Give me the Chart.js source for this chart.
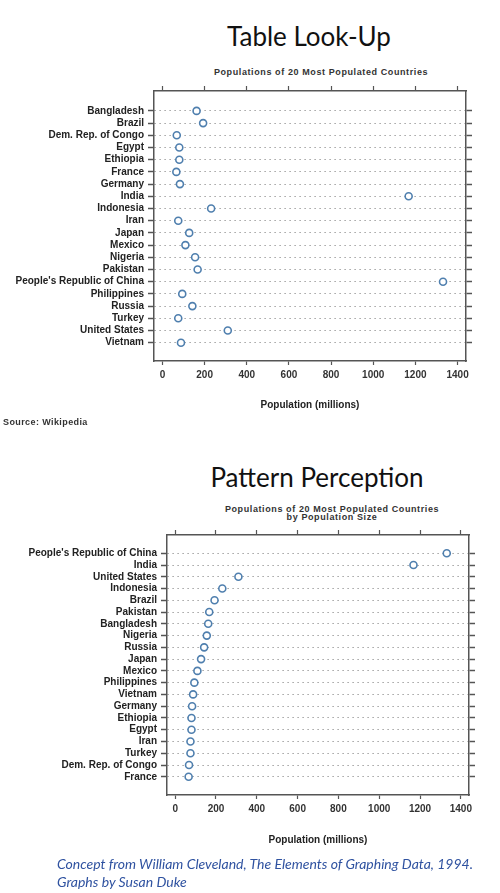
<!DOCTYPE html>
<html>
<head>
<meta charset="utf-8">
<script src="https://cdn.jsdelivr.net/npm/chart.js@4"></script>
<style>
	body { margin: 0; width: 500px; height: 893px; background: #fff; position: relative; overflow: hidden; font-family: "Liberation Sans", Arial, sans-serif; }
	canvas { position: absolute; left: 0; }
	.big { position: absolute; font-family: Lato, sans-serif; font-size: 26px; line-height: 26px; color: #111; white-space: nowrap; transform: translateX(-50%); }
	.sub { position: absolute; font-weight: bold; font-size: 9px; line-height: 8px; letter-spacing: 0.6px; color: #333; text-align: center; white-space: nowrap; transform: translateX(-50%); }
	.source { position: absolute; left: 3px; top: 416px; font-weight: bold; font-size: 9px; line-height: 12px; letter-spacing: 0.4px; color: #333; }
	.credit { position: absolute; left: 57px; top: 855px; font-family: Lato, sans-serif; font-style: italic; font-size: 14px; line-height: 18px; color: #2f52a0; white-space: nowrap; }
</style>
</head>
<body>
<div class="big" style="left:309px; top:23px;">Table Look-Up</div>
<div class="sub" style="left:321px; top:68px;">Populations of 20 Most Populated Countries</div>
<canvas id="lookup" width="500" height="430" style="top:0"></canvas>
<div class="source">Source: Wikipedia</div>

<div class="big" style="left:317px; top:464px;">Pattern Perception</div>
<div class="sub" style="left:332px; top:505px;">Populations of 20 Most Populated Countries<br>by Population Size</div>
<canvas id="pattern" width="500" height="420" style="top:440px"></canvas>
<div class="credit">Concept from William Cleveland, The Elements of Graphing Data, 1994.<br>Graphs by Susan Duke</div>

<script>
// alphabetical list (top chart)
const countries = ['Bangladesh', 'Brazil', 'Dem. Rep. of Congo', 'Egypt', 'Ethiopia', 'France', 'Germany', 'India', 'Indonesia', 'Iran', 'Japan', 'Mexico', 'Nigeria', 'Pakistan', "People's Republic of China", 'Philippines', 'Russia', 'Turkey', 'United States', 'Vietnam'];
const populations = [162, 193, 68, 80, 80, 66, 83, 1168, 231, 75, 127, 109, 155, 167, 1331, 94, 142, 75, 310, 88];

// same countries, largest first (bottom chart)
const sizeOrder = ["People's Republic of China", 'India', 'United States', 'Indonesia', 'Brazil', 'Pakistan', 'Bangladesh', 'Nigeria', 'Russia', 'Japan', 'Mexico', 'Philippines', 'Vietnam', 'Germany', 'Ethiopia', 'Egypt', 'Iran', 'Turkey', 'Dem. Rep. of Congo', 'France'];

const xTicks = [0, 200, 400, 600, 800, 1000, 1200, 1400];

const frame = '#555';
const labelFont = { family: '"Liberation Sans", Arial, sans-serif', size: 10, weight: 'bold' };

const dotOptions = (labels, cfg) => {
	const rowTicks = s => { s.ticks = labels.map((l, i) => ({ value: i })); };
	const colTicks = s => { s.ticks = xTicks.map(v => ({ value: v })); };
	return {
		responsive: false,
		animation: false,
		layout: { padding: cfg.padding },
		plugins: { legend: { display: false }, tooltip: { enabled: false } },
		scales: {
			x: {
				type: 'linear', position: 'bottom', min: -40, max: 1440,
				afterBuildTicks: colTicks,
				grid: { drawOnChartArea: false, tickLength: 4, tickColor: frame, tickWidth: 1.2 },
				border: { color: frame, width: 1.5 },
				ticks: { color: '#333', font: labelFont, padding: 4, maxRotation: 0, callback: v => String(v) },
				title: { display: true, text: 'Population (millions)', color: '#222', font: labelFont, padding: { top: 0, bottom: cfg.titlePad } },
				afterFit: s => { s.height = cfg.xHeight; }
			},
			x2: {
				type: 'linear', position: 'top', min: -40, max: 1440,
				afterBuildTicks: colTicks,
				grid: { drawOnChartArea: false, tickLength: 5, tickColor: frame, tickWidth: 1.2 },
				border: { color: frame, width: 1.5 },
				ticks: { display: false },
				afterFit: s => { s.height = 5; }
			},
			y: {
				type: 'linear', position: 'left', reverse: true, min: cfg.yMin, max: cfg.yMax,
				afterBuildTicks: rowTicks,
				grid: { color: '#8a8a8a', lineWidth: 1, tickLength: 6, tickColor: frame, tickWidth: 1.5, tickBorderDash: [] },
				border: { color: frame, width: 1.5, dash: [1.2, 3.8] },
				ticks: { color: '#222', font: labelFont, padding: 4, autoSkip: false, callback: v => labels[v] },
				afterFit: s => { s.width = cfg.yWidth; }
			},
			y2: {
				type: 'linear', position: 'right', reverse: true, min: cfg.yMin, max: cfg.yMax,
				afterBuildTicks: rowTicks,
				grid: { drawOnChartArea: false, tickLength: 6, tickColor: frame, tickWidth: 1.5 },
				border: { color: frame, width: 1.5 },
				ticks: { display: false },
				afterFit: s => { s.width = 6; }
			}
		}
	};
};

const dotData = labels => ({
	datasets: [{
		data: labels.map((c, i) => ({ x: populations[countries.indexOf(c)], y: i })),
		showLine: false,
		pointStyle: 'circle',
		pointRadius: 3.5,
		pointBorderWidth: 1.6,
		pointBorderColor: '#4f7fae',
		pointBackgroundColor: '#fff',
		clip: false
	}]
});

new Chart(document.getElementById('lookup'), {
	type: 'scatter',
	data: dotData(countries),
	options: dotOptions(countries, {
		padding: { top: 86, right: 28, bottom: 0, left: 0 },
		yWidth: 154, xHeight: 69, titlePad: 19,
		yMin: -1.63, yMax: 20.5
	})
});

new Chart(document.getElementById('pattern'), {
	type: 'scatter',
	data: dotData(sizeOrder),
	options: dotOptions(sizeOrder, {
		padding: { top: 90, right: 25, bottom: 0, left: 0 },
		yWidth: 167, xHeight: 65, titlePad: 14,
		yMin: -1.55, yMax: 20.55
	})
});
</script>
</body>
</html>
